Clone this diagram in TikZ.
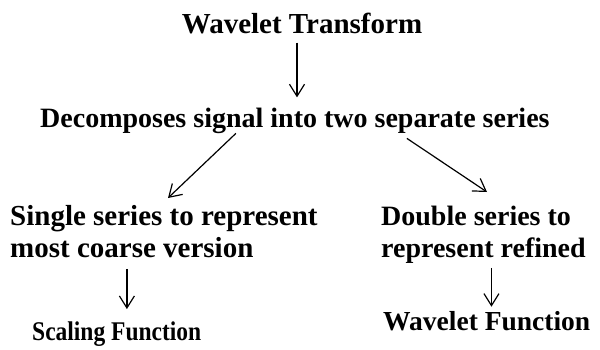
\documentclass[tikz,border=0pt]{standalone}
\usepackage{fontspec}
\setmainfont{Liberation Serif}
\newfontfamily\narrowserif[FakeStretch=0.87]{Liberation Serif}
\usetikzlibrary{arrows.meta,calc}
\begin{document}
\begin{tikzpicture}[x=1pt,y=1pt,
  txt/.style={inner sep=0pt, font=\bfseries},
  arr/.style={line width=1.2pt, -{Straight Barb[length=12pt,width=15pt,line width=1.2pt]}}]
\useasboundingbox (0,0) rectangle (600,-349);
\node[txt, anchor=base, font=\bfseries\fontsize{29}{32}\selectfont] (wt) at (302,-33) {Wavelet Transform};
\node[txt, anchor=base west, font=\bfseries\fontsize{28}{32}\selectfont] (dec) at (40,-127) {Decomposes signal into two separate series};
\node[txt, anchor=north west, align=left, font=\bfseries\fontsize{29}{32}\selectfont] (single) at (10,-205) {Single series to represent\\most coarse version};
\node[txt, anchor=north west, align=left, font=\bfseries\fontsize{28}{32}\selectfont] (double) at (381,-206) {Double series to\\represent refined};
\node[txt, anchor=base west, font=\narrowserif\bfseries\fontsize{27}{30}\selectfont] (scal) at (32,-340) {Scaling Function};
\node[txt, anchor=base west, font=\bfseries\fontsize{27.5}{30}\selectfont] (wf) at (383,-330) {Wavelet Function};
\path ([xshift=-5pt,yshift=-9pt]wt.south) coordinate (a1);
\draw[arr] (a1) -- ($(a1 |- dec.north)+(0,10)$);
\draw[arr] ([xshift=-59pt,yshift=0pt]dec.south) -- ([xshift=158pt,yshift=7pt]single.north west);
\draw[arr] ([xshift=112pt,yshift=-5pt]dec.south) -- ([xshift=106pt,yshift=14pt]double.north west);
\path ([xshift=-37pt,yshift=-11pt]single.south) coordinate (a4);
\draw[arr] (a4) -- ($(a4 |- scal.north)+(0,12)$);
\path ([xshift=8pt,yshift=-4pt]double.south) coordinate (a5);
\draw[arr] (a5) -- ($(a5 |- wf.north)+(0,4)$);
\end{tikzpicture}
\end{document}
